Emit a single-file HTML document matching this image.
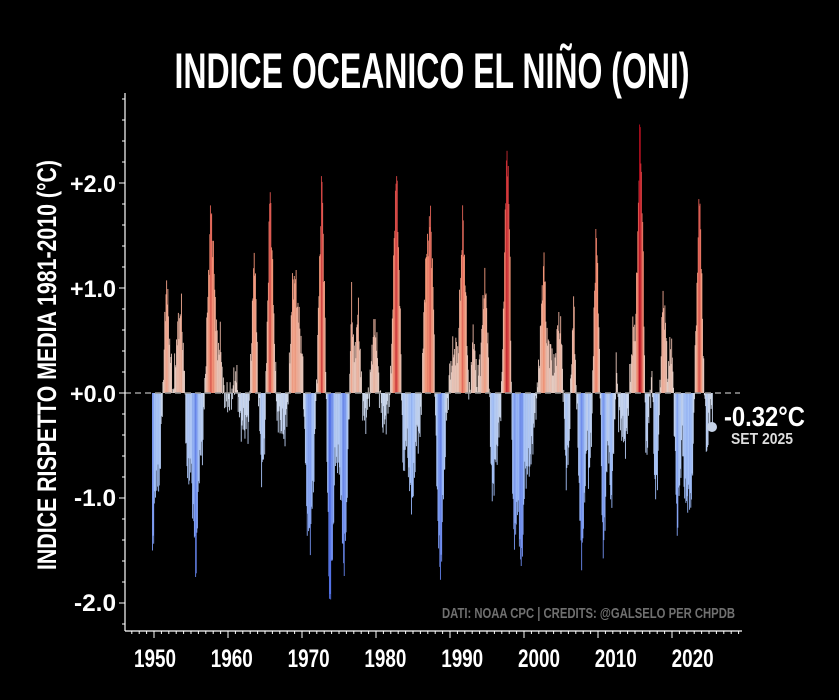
<!DOCTYPE html>
<html><head><meta charset="utf-8"><style>
html,body{margin:0;padding:0;background:#000;}
svg{display:block;font-family:"Liberation Sans Narrow","Liberation Sans",sans-serif;font-weight:bold;}
</style></head><body>
<svg id="c" width="839" height="700" viewBox="0 0 839 700" xmlns="http://www.w3.org/2000/svg">
<rect width="839" height="700" fill="#000"/>
<text x="432" y="88" fill="#fff" font-size="50" text-anchor="middle" textLength="515" lengthAdjust="spacingAndGlyphs">INDICE OCEANICO EL NIÑO (ONI)</text>
<text transform="translate(56,365) rotate(-90)" fill="#fff" font-size="27" text-anchor="middle" textLength="410" lengthAdjust="spacingAndGlyphs">INDICE RISPETTO MEDIA 1981-2010 (°C)</text>
<g id="bars"></g>
<line x1="125" y1="393" x2="740" y2="393" stroke="#999" stroke-width="1.5" stroke-dasharray="6,4"/>
<line x1="125" y1="93" x2="125" y2="631" stroke="#fff" stroke-width="1.2"/>
<line x1="125" y1="631" x2="742" y2="631" stroke="#fff" stroke-width="1.2"/>
<g id="ticks" stroke="#fff" stroke-width="1"></g>
<g fill="#fff" font-size="24" text-anchor="end">
<text x="116" y="192" textLength="46" lengthAdjust="spacingAndGlyphs">+2.0</text>
<text x="116" y="297" textLength="46" lengthAdjust="spacingAndGlyphs">+1.0</text>
<text x="116" y="402" textLength="46" lengthAdjust="spacingAndGlyphs">+0.0</text>
<text x="116" y="506" textLength="42" lengthAdjust="spacingAndGlyphs">-1.0</text>
<text x="116" y="611" textLength="42" lengthAdjust="spacingAndGlyphs">-2.0</text>
</g>
<g fill="#fff" font-size="25" text-anchor="middle" id="xl"></g>
<text x="442" y="618" fill="#707070" font-size="15" textLength="293" lengthAdjust="spacingAndGlyphs">DATI: NOAA CPC | CREDITS: @GALSELO PER CHPDB</text>
<circle cx="712" cy="427" r="5" fill="#c6d3e8"/>
<text x="724" y="426" fill="#fff" font-size="28" textLength="81" lengthAdjust="spacingAndGlyphs">-0.32°C</text>
<text x="731" y="444" fill="#ddd" font-size="16" textLength="62" lengthAdjust="spacingAndGlyphs">SET 2025</text>
</svg>
<script>
var P=[[1950.0,-1.5],[1950.5,-0.8],[1950.9,-0.9],[1951.3,-0.2],[1951.9,1.1],[1952.3,0.5],[1952.8,0.0],[1953.4,0.6],[1953.9,0.8],[1954.3,0.2],[1954.7,-0.8],[1955.2,-0.7],[1955.9,-1.7],[1956.3,-0.7],[1956.8,-0.5],[1957.3,0.5],[1957.9,1.8],[1958.3,1.2],[1958.8,0.4],[1959.2,0.5],[1959.6,0.0],[1960.2,-0.1],[1960.8,0.0],[1961.3,0.2],[1961.9,-0.3],[1962.5,-0.3],[1963.0,-0.3],[1963.8,1.4],[1964.3,0.0],[1964.8,-0.8],[1965.2,-0.4],[1965.9,2.0],[1966.3,1.0],[1966.8,-0.2],[1967.4,-0.3],[1967.9,-0.4],[1968.4,0.0],[1968.9,1.0],[1969.3,1.1],[1969.8,0.7],[1970.3,0.3],[1970.9,-1.2],[1971.3,-1.4],[1971.8,-0.8],[1972.3,0.4],[1972.9,2.1],[1973.3,0.8],[1973.9,-2.0],[1974.3,-1.6],[1974.7,-0.6],[1975.3,-0.7],[1975.9,-1.7],[1976.3,-1.0],[1976.9,0.9],[1977.3,0.3],[1977.8,0.8],[1978.3,0.0],[1978.7,-0.3],[1979.3,0.0],[1979.9,0.6],[1980.2,0.6],[1980.7,0.0],[1981.2,-0.3],[1981.7,-0.2],[1982.2,0.1],[1982.95,2.2],[1983.4,1.0],[1983.9,-0.8],[1984.3,-0.4],[1984.9,-1.0],[1985.2,-1.0],[1985.7,-0.4],[1986.2,-0.4],[1986.9,1.2],[1987.6,1.7],[1988.0,0.8],[1988.4,-0.8],[1988.9,-1.8],[1989.3,-1.0],[1989.7,-0.3],[1990.2,0.2],[1990.7,0.4],[1991.3,0.4],[1991.95,1.7],[1992.4,0.8],[1992.8,-0.1],[1993.4,0.6],[1993.8,0.1],[1994.3,0.3],[1994.9,1.1],[1995.3,0.6],[1995.9,-1.0],[1996.3,-0.7],[1996.8,-0.4],[1997.2,0.0],[1997.9,2.4],[1998.3,1.5],[1998.6,-0.7],[1998.95,-1.5],[1999.3,-1.0],[1999.9,-1.7],[2000.3,-0.8],[2000.8,-0.7],[2001.2,-0.6],[2001.7,-0.2],[2002.2,0.2],[2002.9,1.3],[2003.3,0.5],[2003.8,0.4],[2004.3,0.2],[2004.9,0.7],[2005.3,0.5],[2005.9,-0.8],[2006.3,-0.5],[2006.9,0.9],[2007.3,0.0],[2007.95,-1.6],[2008.3,-1.2],[2008.7,-0.4],[2008.95,-0.8],[2009.3,-0.5],[2009.95,1.6],[2010.3,0.8],[2010.9,-1.6],[2011.3,-0.9],[2011.6,-0.4],[2011.95,-1.1],[2012.3,-0.6],[2012.7,0.3],[2013.0,-0.2],[2013.6,-0.4],[2014.0,-0.5],[2014.5,0.1],[2014.95,0.6],[2015.3,0.6],[2015.9,2.6],[2016.3,1.4],[2016.7,-0.7],[2017.0,-0.3],[2017.5,0.2],[2017.95,-1.0],[2018.3,-0.7],[2018.95,0.9],[2019.3,0.7],[2019.7,0.1],[2019.95,0.5],[2020.3,0.3],[2020.9,-1.3],[2021.3,-0.8],[2021.6,-0.4],[2021.95,-1.0],[2022.3,-1.0],[2022.9,-1.0],[2023.1,-0.4],[2023.4,0.5],[2023.95,2.0],[2024.3,0.8],[2024.6,0.0],[2024.95,-0.6],[2025.3,-0.2],[2025.5,-0.1],[2025.7,-0.32]];
function val(t){for(var i=0;i<P.length-1;i++){if(t>=P[i][0]&&t<=P[i+1][0]){var f=(t-P[i][0])/(P[i+1][0]-P[i][0]);return P[i][1]+f*(P[i+1][1]-P[i][1]);}}return P[P.length-1][1];}
function mix(a,b,f){return 'rgb('+a.map(function(x,i){return Math.round(x+(b[i]-x)*f)}).join(',')+')';}
function col(v){if(v>=0){var f=Math.min(v/2.6,1);return f<0.5?mix([225,215,210],[244,150,120],f*2):mix([244,150,120],[190,10,30],(f-0.5)*2);}
var f=Math.min(-v/2.0,1);return f<0.5?mix([215,222,232],[160,190,248],f*2):mix([160,190,248],[80,110,230],(f-0.5)*2);}
var X0=152,K=7.4,Y0=393,S=105,s='';
for(var m=0;m<=908;m++){var t=1950+m/12;var v=val(t)+0.12*Math.sin(m*2.3)+0.07*Math.sin(m*5.1);if(m==908)v=-0.32;
var x=X0+(t-1950)*K;var h=Math.abs(v)*S;var y=v>=0?Y0-h:Y0;
s+='<rect x="'+x.toFixed(2)+'" y="'+y.toFixed(1)+'" width="0.9" height="'+h.toFixed(1)+'" fill="'+col(v)+'"/>';}
document.getElementById('bars').innerHTML=s;
var tk='';for(var yr=1946;yr<=2029;yr++){var x=X0+(yr-1950)*K+2;if(x<126||x>741)continue;var L=(yr%10==0)?7:3;tk+='<line x1="'+x.toFixed(1)+'" y1="631" x2="'+x.toFixed(1)+'" y2="'+(631+L)+'"/>';}
for(var q=-2.2;q<=2.85;q+=0.2){var y=Y0-q*S;if(y<95||y>630)continue;var big=Math.abs(q-Math.round(q))<0.01;tk+='<line x1="'+(big?119:122)+'" y1="'+y.toFixed(1)+'" x2="125" y2="'+y.toFixed(1)+'"/>';}
document.getElementById('ticks').innerHTML=tk;
var xl='';for(var d=0;d<8;d++){var cx=155+d*76.8;xl+='<text x="'+cx+'" y="667" textLength="42" lengthAdjust="spacingAndGlyphs">'+(1950+d*10)+'</text>';}
document.getElementById('xl').innerHTML=xl;
</script>
</body></html>
